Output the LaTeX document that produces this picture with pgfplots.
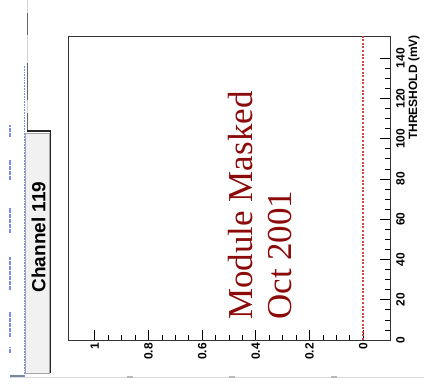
\documentclass[border=0pt]{standalone}
\usepackage{fontspec}
\setmainfont{Liberation Serif}
\setsansfont{Liberation Sans}
\usepackage{pgfplots}
\pgfplotsset{compat=1.18}

\definecolor{maskred}{RGB}{139,10,10}
\definecolor{effdot}{RGB}{210,70,70}
\definecolor{paveshade}{RGB}{241,241,241}
\definecolor{statblue}{RGB}{70,90,235}
\definecolor{bargrey}{RGB}{120,135,160}

\begin{document}
\begin{tikzpicture}
\useasboundingbox (0,0) rectangle (424bp,385bp);

% --- canvas remnants and the channel pave ---
\begin{scope}[x=1bp,y=1bp]
  \draw[black!14, line width=0.8] (10,8) -- (424,8);
  \foreach \xx in {130,232,334}
    \draw[black!28, line width=1.2] (\xx-3,8) -- (\xx+3,8);
  \draw[bargrey, line width=2] (10,9) -- (25,9);
  % neighbouring pad edge
  \draw[black!18, line width=1] (27,254) -- (27,385);
  \draw[black!60, line width=1] (27,350) -- (27,372);
  \draw[black!60, line width=1] (27,285) -- (27,322);
  \draw[black!60, line width=1] (27,254) -- (27,272);
  % statistics strip
  \draw[statblue!70, densely dotted, line width=0.6] (24,8) -- (24,320);
  \foreach \ya/\yb in {248/260, 205/225, 152/177, 95/128, 48/73, 32/38}
    \draw[statblue!70, line width=2, dash pattern=on 4 off 1] (10,\ya) -- (10,\yb);
  % title pave
  \fill[paveshade] (25,12) rectangle (49,252);
  \draw[black!35, line width=0.5] (25,12) rectangle (49,252);
  \draw[black!85, line width=1.6] (27,254) -- (50.5,254) -- (50.5,12);
  \node[rotate=90, font=\sffamily\bfseries\fontsize{19bp}{22bp}\selectfont, inner sep=0pt]
    at (38.5,148) {Channel 119};
\end{scope}

% --- efficiency versus threshold, drawn turned on its side ---
\begin{axis}[
  scale only axis,
  width=322bp, height=304bp,
  anchor=south west, at={(68bp,45bp)},
  xmin=-0.1, xmax=1.1, x dir=reverse,
  ymin=0, ymax=151,
  xtick={0,0.2,0.4,0.6,0.8,1},
  ytick={0,20,40,60,80,100,120,140},
  minor x tick num=3, minor y tick num=3,
  xtick pos=bottom, ytick pos=right,
  yticklabel pos=right,
  tick align=inside,
  major tick length=10bp, minor tick length=5bp,
  axis line style={black!80, line width=0.7bp},
  every tick/.style={black, line width=0.7bp},
  /pgf/number format/assume math mode=true,
  ticklabel style={font=\sffamily\bfseries\fontsize{12bp}{14bp}\selectfont},
  xticklabel style={rotate=90, anchor=east, inner xsep=3bp, inner ysep=0pt},
  yticklabel style={rotate=90, anchor=north, inner ysep=6bp, inner xsep=0pt},
  clip=false,
]
  \addplot[effdot, line width=1.5bp, dash pattern=on 2bp off 1.6bp]
    coordinates {(0,0) (0,151)};
\end{axis}

\node[rotate=90, anchor=east, inner sep=0pt,
      font=\sffamily\bfseries\fontsize{12bp}{14bp}\selectfont]
  at (414bp,350bp) {THRESHOLD (mV)};

% --- annotation ---
\node[rotate=90, anchor=base west, inner sep=0pt, text=maskred,
      font=\fontsize{35bp}{40bp}\selectfont] at (252bp,65bp) {Module Masked};
\node[rotate=90, anchor=base west, inner sep=0pt, text=maskred,
      font=\fontsize{35bp}{40bp}\selectfont] at (291bp,65bp) {Oct 2001};
\end{tikzpicture}
\end{document}
